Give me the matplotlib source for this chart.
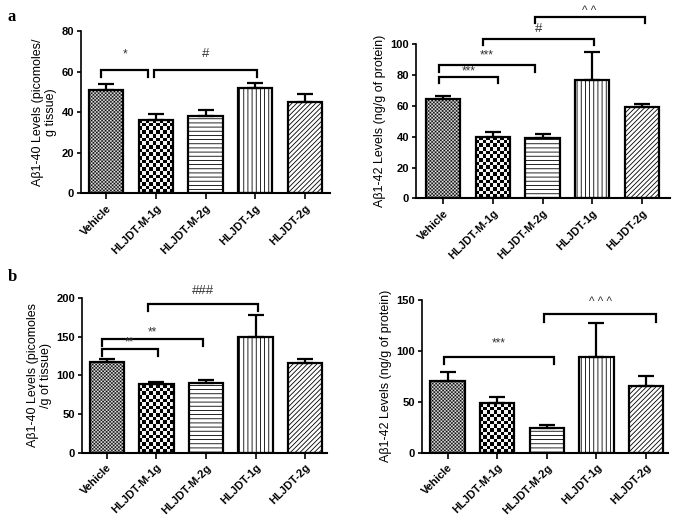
import numpy as np
import matplotlib
matplotlib.use("Agg")
import matplotlib.pyplot as plt

plt.rcParams["font.family"] = ["Liberation Sans", "DejaVu Sans"]
plt.rcParams["hatch.linewidth"] = 0.6

# groups + values (mean, upper error)
groups = ["Vehicle", "HLJDT-M-1g", "HLJDT-M-2g", "HLJDT-1g", "HLJDT-2g"]

a40_mean = [50.9, 36.1, 38.1, 51.7, 45.2]
a40_err = [2.8, 2.8, 2.9, 2.8, 3.7]
a42_mean = [64.3, 40.0, 39.4, 76.8, 59.5]
a42_err = [2.3, 2.9, 2.4, 18.4, 1.7]
b40_mean = [117.6, 88.8, 90.5, 149.0, 115.6]
b40_err = [3.4, 2.6, 3.5, 29.0, 5.1]
b42_mean = [70.7, 48.5, 24.6, 94.3, 65.5]
b42_err = [8.3, 5.9, 2.6, 32.7, 10.1]

# significance brackets: x1, x2, y, leg length, label, label y
a40_sig = [(-0.09, 0.85, 60.8, 3.6, "*", 68.5),
           (0.97, 3.03, 60.8, 3.6, "#", 68.5)]
a42_sig = [(-0.07, 1.1, 78.6, 3.9, "***", 82.7),
           (-0.07, 1.84, 86.6, 4.4, "***", 93.0),
           (0.81, 3.04, 103.4, 3.9, "#", 109.7),
           (1.84, 4.05, 117.5, 3.9, "^ ^", 121.5)]
b40_sig = [(-0.1, 1.03, 134.0, 9.0, "**", 142.0),
           (-0.1, 1.94, 146.6, 8.6, "**", 156.0),
           (0.83, 3.05, 192.0, 8.4, "###", 209.0)]
b42_sig = [(-0.07, 2.14, 93.7, 6.7, "***", 107.8),
           (1.95, 4.2, 136.0, 7.3, "^ ^ ^", 148.0)]

hatches = [None, None, "----", "||||", "///////"]
checks = [1.7, 3.6, None, None, None]

W, H = 675, 518
fig = plt.figure(figsize=(W / 100, H / 100), dpi=100)


def px_axes(x0, x1, ytop, ybot):
    return fig.add_axes([x0 / W, 1 - ybot / H, (x1 - x0) / W, (ybot - ytop) / H])


def checker(ax, bar, cell):
    x0, y0 = bar.get_x(), bar.get_y()
    w, h = bar.get_width(), bar.get_height()
    p0 = ax.transData.transform((x0, y0))
    p1 = ax.transData.transform((x0 + w, y0 + h))
    nx = max(1, int(round((p1[0] - p0[0]) / cell)))
    ny = max(1, int(round((p1[1] - p0[1]) / cell)))
    board = np.indices((ny, nx)).sum(axis=0) % 2
    im = ax.imshow(board, cmap="gray_r", extent=(x0, x0 + w, y0, y0 + h),
                   origin="lower", interpolation="antialiased", aspect="auto",
                   zorder=1, vmin=-0.05, vmax=1)
    im.set_clip_path(bar)


def panel(ax, means, errs, sig, ymax, ystep, ylabel, xlim):
    x = np.arange(len(groups))
    ax.set_xlim(*xlim)
    ax.set_ylim(0, ymax)
    bars = ax.bar(x, means, width=0.69, facecolor="white", edgecolor="black",
                  linewidth=1.6, zorder=2)
    for b, hch, c in zip(bars, hatches, checks):
        if hch:
            b.set_hatch(hch)
        if c:
            b.set_facecolor("none")
            checker(ax, b, c)
    ax.errorbar(x, means, yerr=[np.zeros(len(errs)), errs], fmt="none",
                ecolor="black", elinewidth=1.6, capsize=5.5, capthick=1.6,
                zorder=3)
    for x1, x2, y, leg, txt, ty in sig:
        ax.plot([x1, x1, x2, x2], [y - leg, y, y, y - leg], color="black",
                lw=1.6, clip_on=False, solid_joinstyle="miter")
        fs = 9.5 if "#" in txt else 8.5
        ax.text((x1 + x2) / 2, ty, txt, ha="center", va="center",
                fontsize=fs, color="#333333", clip_on=False)
    ax.set_xlim(*xlim)
    ax.set_ylim(0, ymax)
    ax.set_yticks(np.arange(0, ymax + 1, ystep))
    ax.set_xticks(x)
    ax.set_xticklabels(groups, rotation=45, ha="right", rotation_mode="anchor",
                       fontsize=8, fontweight="bold")
    for lab in ax.get_yticklabels():
        lab.set_fontweight("bold")
        lab.set_fontsize(8)
    ax.tick_params(axis="y", length=3, width=1.2, pad=2)
    ax.tick_params(axis="x", length=4, width=1.2, pad=3)
    ax.spines["top"].set_visible(False)
    ax.spines["right"].set_visible(False)
    ax.spines["left"].set_linewidth(1.2)
    ax.spines["bottom"].set_linewidth(1.5)
    ax.set_ylabel(ylabel, fontsize=9, linespacing=1.1, labelpad=3)


ax1 = px_axes(81, 330, 31, 193.3)
panel(ax1, a40_mean, a40_err, a40_sig, 80, 20,
      "A\u03b21-40 Levels (picomoles/\ng tissue)", (-0.5, 4.5))

ax2 = px_axes(416, 670, 44.3, 198.3)
panel(ax2, a42_mean, a42_err, a42_sig, 100, 20,
      "A\u03b21-42 Levels (ng/g of protein)", (-0.54, 4.56))

ax3 = px_axes(82, 327, 298, 452.7)
panel(ax3, b40_mean, b40_err, b40_sig, 200, 50,
      "A\u03b21-40 Levels (picomoles\n/g of tissue)", (-0.5, 4.44))

ax4 = px_axes(421.7, 668, 300, 452.7)
panel(ax4, b42_mean, b42_err, b42_sig, 150, 50,
      "A\u03b21-42 Levels (ng/g of protein)", (-0.52, 4.44))

fig.text(8 / W, 1 - 17 / H, "a", family="Liberation Serif", fontweight="bold",
         fontsize=12, ha="left", va="center")
fig.text(8 / W, 1 - 277 / H, "b", family="Liberation Serif", fontweight="bold",
         fontsize=12, ha="left", va="center")

fig.savefig("out.png", dpi=100)
